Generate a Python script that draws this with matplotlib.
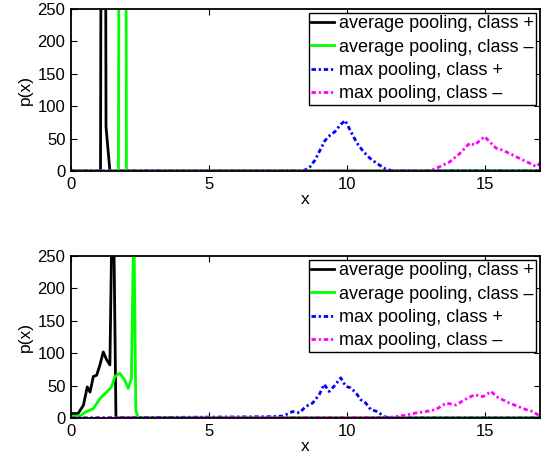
import numpy as np
import matplotlib
matplotlib.use("Agg")
import matplotlib.pyplot as plt

plt.rcParams['font.family'] = ['Liberation Sans', 'DejaVu Sans']

# top panel
top_avg_pos_x = [0, 1.07, 1.17, 1.27, 1.41, 17]
top_avg_pos_y = [0, 0, 2000, 68, 0, 0]
top_avg_neg_x = [0, 1.72, 1.87, 2.01, 17]
top_avg_neg_y = [0, 0, 3000, 0, 0]
top_max_pos_x = [0, 8.43, 8.67, 8.85, 9.03, 9.21, 9.39, 9.57, 9.76, 9.94, 10.06,
                 10.24, 10.42, 10.6, 10.84, 11.08, 11.38, 11.68, 17]
top_max_pos_y = [0, 0, 6.6, 17, 32, 47, 55, 60.6, 71, 78, 68,
                 53, 40, 30, 19.6, 12, 3.7, 0, 0]
top_max_neg_x = [0, 13.01, 13.37, 13.73, 14.1, 14.46, 14.64, 14.82, 15.0, 15.18,
                 15.42, 15.66, 15.9, 16.14, 16.38, 16.63, 16.87, 17]
top_max_neg_y = [0, 0, 6.6, 14, 27, 43, 40, 47, 53, 45,
                 35, 32, 27, 22, 17, 12, 6.6, 12]

# bottom panel
bot_avg_pos_x = [0, 0.26, 0.45, 0.59, 0.69, 0.81, 0.93, 1.05, 1.17, 1.29, 1.41,
                 1.47, 1.56, 1.63, 17]
bot_avg_pos_y = [6.8, 7, 19.7, 48, 40, 64, 66, 82, 102, 90, 82,
                 260, 260, 0, 0]
bot_avg_neg_x = [0, 0.33, 0.51, 0.81, 1.05, 1.29, 1.47, 1.59, 1.77, 1.95, 2.07,
                 2.19, 2.26, 2.29, 2.35, 2.44, 17]
bot_avg_neg_y = [3, 3, 9, 14.5, 30, 40, 48, 64, 69, 58.5, 45.6,
                 61, 260, 260, 12, 0, 0]
bot_max_pos_x = [0, 7.2, 7.68, 8.04, 8.28, 8.52, 8.76, 9.0, 9.18, 9.36, 9.54,
                 9.78, 9.96, 10.14, 10.33, 10.51, 10.69, 10.87, 11.11, 11.35,
                 11.66, 17]
bot_max_pos_y = [0, 2, 3, 10, 8, 18, 23, 36, 52, 41, 49,
                 62, 49, 46.5, 39, 28, 23, 13, 10, 2,
                 0, 0]
bot_max_neg_x = [0, 11.56, 12.03, 12.51, 12.87, 13.23, 13.6, 13.96, 14.26, 14.64,
                 14.94, 15.24, 15.42, 15.66, 15.9, 16.2, 16.5, 16.75, 16.93, 17]
bot_max_neg_y = [0, 1, 3.6, 7.8, 10, 13, 23, 20, 28, 36,
                 33, 41, 33, 28, 23, 18, 13, 10, 5, 3]

labels = ['average pooling, class +', 'average pooling, class \u2013',
          'max pooling, class +', 'max pooling, class \u2013']

fig = plt.figure(figsize=(5.42, 4.59), dpi=100)
ax1 = fig.add_axes([0.131, 0.6275, 0.865, 0.353])
ax2 = fig.add_axes([0.131, 0.0893, 0.865, 0.353])

dashdot = (0, (1.6, 1.0, 0.8, 1.0))

panels = [
    (ax1, top_avg_pos_x, top_avg_pos_y, top_avg_neg_x, top_avg_neg_y,
     top_max_pos_x, top_max_pos_y, top_max_neg_x, top_max_neg_y),
    (ax2, bot_avg_pos_x, bot_avg_pos_y, bot_avg_neg_x, bot_avg_neg_y,
     bot_max_pos_x, bot_max_pos_y, bot_max_neg_x, bot_max_neg_y),
]

for ax, apx, apy, anx, any_, mpx, mpy, mnx, mny in panels:
    ax.plot(apx, apy, color='black', lw=2, label=labels[0])
    ax.plot(anx, any_, color=(0, 1, 0), lw=2, label=labels[1])
    ax.plot(mpx, mpy, color=(0, 0, 1), lw=2, ls=dashdot, label=labels[2])
    ax.plot(mnx, mny, color=(1, 0, 1), lw=2, ls=dashdot, label=labels[3])
    ax.set_xlim(0, 17)
    ax.set_ylim(0, 250)
    ax.set_xticks([0, 5, 10, 15])
    ax.set_yticks([0, 50, 100, 150, 200, 250])
    ax.tick_params(direction='in', top=True, right=True, labelsize=12,
                   length=4)
    ax.tick_params(axis='x', pad=4)
    ax.tick_params(axis='y', pad=4)
    for sp in ax.spines.values():
        sp.set_linewidth(1.3)
    ax.set_xlabel('x', fontsize=12.5, labelpad=0)
    ax.set_ylabel('p(x)', fontsize=12.5, labelpad=3)
    leg = ax.legend(loc='upper right', fontsize=13, handlelength=1.25,
                    handletextpad=0.25, labelspacing=0.35, borderpad=0.15,
                    borderaxespad=0.2, fancybox=False, framealpha=1,
                    edgecolor='black')
    leg.get_frame().set_linewidth(1.0)

fig.savefig('out.png', dpi=100)
